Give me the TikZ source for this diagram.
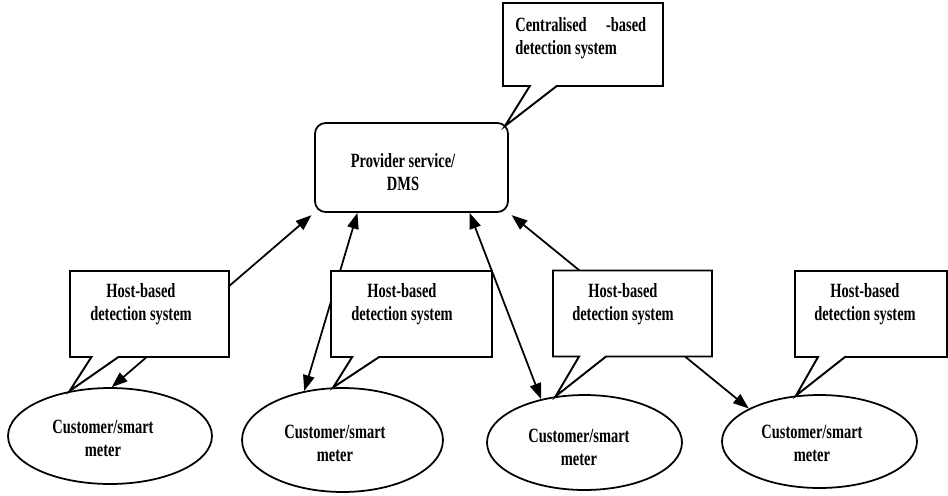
\documentclass[tikz,border=0pt]{standalone}
\usepackage{fontspec}
\setmainfont{Liberation Serif}[FakeStretch=0.715]
\usetikzlibrary{arrows.meta,shapes.geometric,shapes.callouts,calc}
\pgfdeclarelayer{bg}
\pgfsetlayers{bg,main}
\begin{document}
\begin{tikzpicture}[x=0.02cm,y=-0.02cm,
  txt/.style={font=\fontsize{11.5pt}{13pt}\selectfont\bfseries, align=center, inner sep=0pt},
  meter/.style={draw, line width=1pt, ellipse, inner sep=0pt},
  provbox/.style={draw, line width=1pt, rounded corners=6pt, inner sep=0pt},
  hostbox/.style={draw, line width=1.1pt, fill=white, rectangle callout, callout pointer width=0.54cm, minimum height=1.72cm, inner sep=0pt},
  conn/.style={line width=1pt, {Triangle[length=9pt,width=6.5pt]}-{Triangle[length=9pt,width=6.5pt]}}
]
\useasboundingbox (0,0) rectangle (948,495);
% main shapes
\node[provbox, minimum width=3.86cm, minimum height=1.78cm] (prov) at (411.5,167.5) {};
\node[meter, minimum width=4.08cm, minimum height=1.92cm] (e1) at (110,436) {};
\node[meter, minimum width=4.02cm, minimum height=2.08cm] (e2) at (342.5,440) {};
\node[meter, minimum width=3.90cm, minimum height=1.90cm] (e3) at (584.5,442.5) {};
\node[meter, minimum width=3.90cm, minimum height=1.86cm] (e4) at (819.5,441.5) {};
% connectors (behind the callouts)
\begin{pgfonlayer}{bg}
\draw[conn, shorten >=2pt] (e1.88) -- (prov.south west);
\draw[conn] (e2.128.7) -- (prov.-140.8);
\draw[conn] (prov.-38.7) -- (e3.135.8);
\draw[conn, shorten <=2pt] (prov.south east) -- (e4.155);
\end{pgfonlayer}
% callouts
\node[hostbox, minimum width=3.2cm, minimum height=1.66cm, callout absolute pointer={($(prov.north east)+(-4,4)$)}] (c0) at (583,44.5) {};
\node[hostbox, minimum width=3.18cm, callout absolute pointer={(e1.132)}] (c1) at (149.5,314) {};
\node[hostbox, minimum width=3.22cm, callout absolute pointer={(e2.100)}] (c2) at (411.5,314) {};
\node[hostbox, minimum width=3.18cm, callout absolute pointer={(e3.122)}] (c3) at (632.5,313.5) {};
\node[hostbox, minimum width=3.04cm, callout absolute pointer={(e4.117)}] (c4) at (871,314) {};
% texts
\node[txt, anchor=west, align=left] (t0) at (515,38) {Centralised\hspace*{11pt}-based\\detection system};
\node[txt] (tp) at (403,172) {Provider service/\\DMS};
\node[txt] (t1) at (141,304) {Host-based\\detection system};
\node[txt] (t2) at (402,304) {Host-based\\detection system};
\node[txt] (t3) at (623,304) {Host-based\\detection system};
\node[txt] (t4) at (865,304) {Host-based\\detection system};
\node[txt] (m1) at (103,438) {Customer/smart\\meter};
\node[txt] (m2) at (335,443) {Customer/smart\\meter};
\node[txt] (m3) at (579,447) {Customer/smart\\meter};
\node[txt] (m4) at (812,443) {Customer/smart\\meter};
\end{tikzpicture}
\end{document}
